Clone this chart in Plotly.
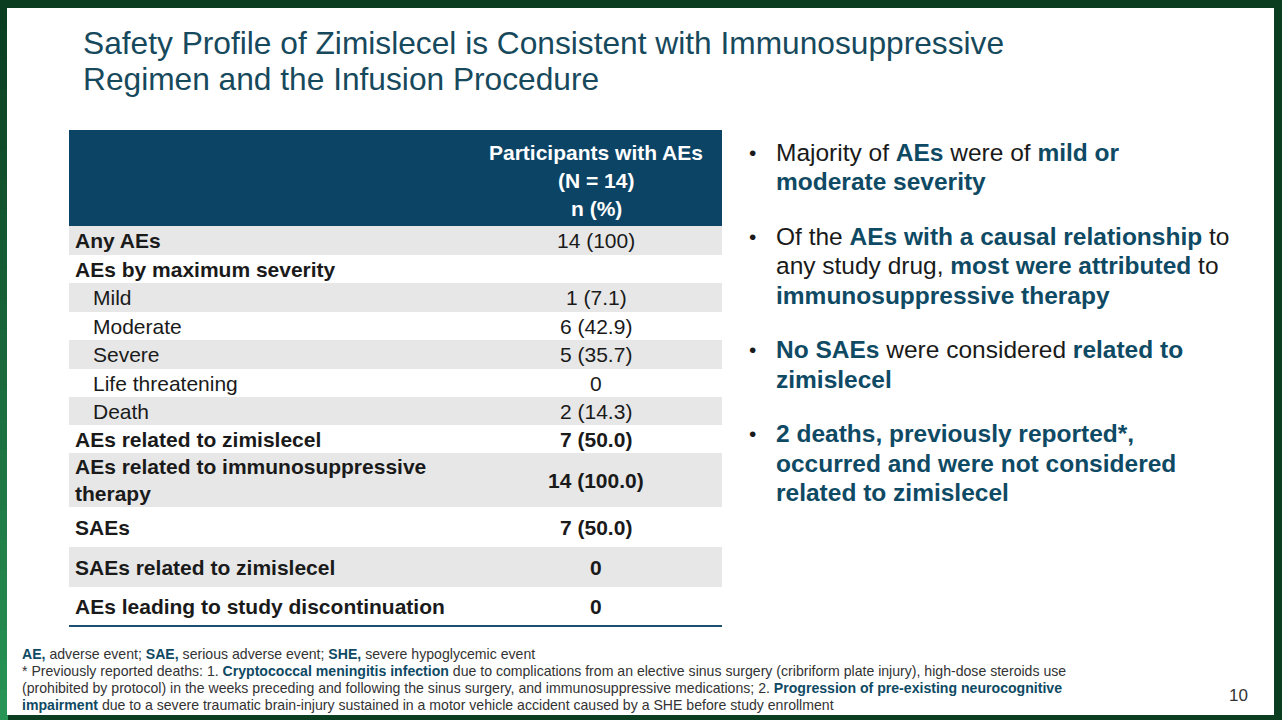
import plotly.graph_objects as go

# 表格数据
row_labels = ["Any AEs", "AEs by maximum severity", "Mild", "Moderate", "Severe",
              "Life threatening", "Death", "AEs related to zimislecel",
              "AEs related to immunosuppressive<br>therapy", "SAEs",
              "SAEs related to zimislecel", "AEs leading to study discontinuation"]
counts = [14, None, 1, 6, 5, 0, 2, 7, 14, 7, 0, 0]
percents = ["100", None, "7.1", "42.9", "35.7", None, "14.3", "50.0", "100.0", "50.0", None, None]
sub_rows = [False, False, True, True, True, True, True, False, False, False, False, False]
bold_values = [False, False, False, False, False, False, False, True, True, True, True, True]
header_lines = ["Participants with AEs", "(N = 14)", "n (%)"]

title_lines = ["Safety Profile of Zimislecel is Consistent with Immunosuppressive",
               "Regimen and the Infusion Procedure"]

# 右侧要点（每项若干行）
TEAL = "#0f4a64"
def hl(s):
    return f'<span style="color:{TEAL}"><b>{s}</b></span>'

bullets = [
    ["Majority of " + hl("AEs") + " were of " + hl("mild or"), hl("moderate severity")],
    ["Of the " + hl("AEs with a causal relationship") + " to",
     "any study drug, " + hl("most were attributed") + " to",
     hl("immunosuppressive therapy")],
    [hl("No SAEs") + " were considered " + hl("related to"), hl("zimislecel")],
    [hl("2 deaths, previously reported*,"), hl("occurred and were not considered"),
     hl("related to zimislecel")],
]

footnotes = [
    hl("AE,") + " adverse event; " + hl("SAE,") + " serious adverse event; " + hl("SHE,") + " severe hypoglycemic event",
    "* Previously reported deaths: 1. " + hl("Cryptococcal meningitis infection") + " due to complications from an elective sinus surgery (cribriform plate injury), high-dose steroids use",
    "(prohibited by protocol) in the weeks preceding and following the sinus surgery, and immunosuppressive medications; 2. " + hl("Progression of pre-existing neurocognitive"),
    hl("impairment") + " due to a severe traumatic brain-injury sustained in a motor vehicle accident caused by a SHE before study enrollment",
]
page_number = "10"

# 布局参数
FONT = "Liberation Sans, Arial, sans-serif"
W, H = 1282, 720
tbl_x0, tbl_x1, col_split = 69, 722, 470
head_y0, head_y1 = 130, 226
row_heights = [29, 28, 29, 28, 29, 28, 28, 28, 54, 40, 40, 39]
NAVY = "#0c4466"
GRAY = "#e7e7e7"

fig = go.Figure()
shapes = []
annotations = []

def add_text(x, y, text, size, color="#1a1a1a", xanchor="left"):
    # 注释框自带约2px内边距，左对齐时往左挪一点
    if xanchor == "left":
        x -= 2
    annotations.append(dict(x=x, y=y, xref="x", yref="y", text=text, showarrow=False,
                            xanchor=xanchor, yanchor="middle",
                            font=dict(family=FONT, size=size, color=color)))

# 绿色边框（左侧渐变）
shapes.append(dict(type="rect", x0=0, x1=W, y0=0, y1=H, fillcolor="#0b3d21", line_width=0, layer="below"))
steps = 24
c0, c1 = (11, 61, 33), (40, 148, 85)
for i in range(steps):
    t = i / (steps - 1)
    col = "rgb({},{},{})".format(*[int(a + (b - a) * t) for a, b in zip(c0, c1)])
    shapes.append(dict(type="rect", x0=0, x1=8, y0=H * i / steps, y1=H * (i + 1) / steps,
                       fillcolor=col, line_width=0, layer="below"))
shapes.append(dict(type="rect", x0=7, x1=1274, y0=8, y1=715, fillcolor="white", line_width=0, layer="below"))

# 标题
for i, line in enumerate(title_lines):
    add_text(83, 43 + i * 36, line, 31.7, "#17495d")

# 表头
shapes.append(dict(type="rect", x0=tbl_x0, x1=tbl_x1, y0=head_y0, y1=head_y1, fillcolor=NAVY, line_width=0))
val_x = (col_split + tbl_x1) / 2
for i, line in enumerate(header_lines):
    add_text(val_x, 152 + i * 28, f"<b>{line}</b>", 21, "white", "center")

# 表格行
y = head_y1
for i, lab in enumerate(row_labels):
    h = row_heights[i]
    if i % 2 == 0:
        shapes.append(dict(type="rect", x0=tbl_x0, x1=tbl_x1, y0=y, y1=y + h, fillcolor=GRAY, line_width=0))
    yc = y + h / 2
    parts = lab.split("<br>")
    lx = 93 if sub_rows[i] else 75
    for k, p in enumerate(parts):
        txt = p if sub_rows[i] else f"<b>{p}</b>"
        add_text(lx, yc + (k - (len(parts) - 1) / 2) * 27, txt, 21)
    if counts[i] is not None:
        v = str(counts[i]) if percents[i] is None else f"{counts[i]} ({percents[i]})"
        if bold_values[i]:
            v = f"<b>{v}</b>"
        add_text(val_x, yc, v, 21, "#1a1a1a", "center")
    y += h
shapes.append(dict(type="line", x0=tbl_x0, x1=tbl_x1, y0=y, y1=y, line=dict(color="#1f4f6e", width=2)))

# 右侧要点
by = 152
for b in bullets:
    add_text(749, by, "•", 21, "#1a1a1a")
    for k, line in enumerate(b):
        add_text(776, by + k * 29.5, line, 24.5)
    by += len(b) * 29.5 + 25

# 脚注
for i, line in enumerate(footnotes):
    add_text(22, 654 + i * 17, line, 14.1, "#333333")
add_text(1238, 695, page_number, 17, "#333333", "center")

fig.update_layout(
    width=W, height=H, margin=dict(l=0, r=0, t=0, b=0),
    paper_bgcolor="white", plot_bgcolor="rgba(0,0,0,0)",
    xaxis=dict(range=[0, W], visible=False, fixedrange=True),
    yaxis=dict(range=[H, 0], visible=False, fixedrange=True),
    shapes=shapes, annotations=annotations, showlegend=False,
)

fig.write_html("out.html", config={"displayModeBar": False},
               post_script="document.body.style.margin='0';")
